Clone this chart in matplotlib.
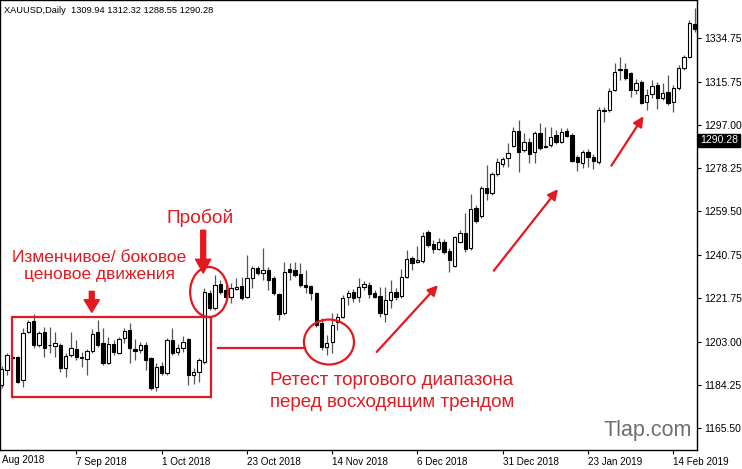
import matplotlib
matplotlib.use("Agg")
import matplotlib.pyplot as plt
from matplotlib.patches import Rectangle, Ellipse
import numpy as np

# ---- data (XAUUSD daily OHLC) ----
opens = [1184.2,1190.7,1196.1,1196.3,1186.3,1207.2,1211.9,1201.5,1207.2,1201.7,
         1200.9,1201.5,1191.5,1197.2,1199.8,1196.1,1195.4,1198.7,1207.2,1202.2,
         1193.7,1201.9,1198.0,1204.6,1208.0,1199.6,1199.3,1201.5,1195.7,1183.3,
         1192.4,1189.4,1203.7,1198.5,1200.2,1203.9,1188.5,1189.8,1194.1,1224.1,
         1217.6,1228.2,1225.4,1222.3,1225.8,1227.1,1222.3,1230.6,1234.9,1232.8,
         1234.1,1230.6,1223.6,1215.4,1234.5,1234.1,1232.3,1227.6,1227.1,1224.1,
         1211.1,1200.6,1202.8,1211.5,1213.7,1222.3,1224.5,1222.3,1226.5,1227.6,
         1224.1,1222.8,1215.0,1221.0,1224.5,1222.8,1231.0,1239.3,1237.5,1238.0,
         1250.6,1245.3,1243.2,1246.2,1242.3,1235.8,1246.2,1250.1,1243.6,1261.0,
         1257.5,1269.7,1267.5,1275.7,1280.1,1282.7,1287.9,1294.4,1286.1,1289.6,
         1285.3,1293.5,1287.9,1288.1,1292.7,1289.8,1294.4,1292.7,1283.3,1280.7,
         1285.1,1283.1,1280.9,1303.1,1303.5,1312.2,1321.5,1321.3,1319.6,1312.2,
         1315.7,1307.0,1310.4,1314.4,1308.7,1311.3,1307.0,1313.1,1321.7,1326.5,
         1340.8]
highs = [1192.4,1198.0,1197.2,1196.7,1208.9,1212.4,1215.0,1207.6,1209.3,1209.3,
         1207.2,1202.4,1198.0,1207.2,1203.7,1198.5,1199.8,1208.4,1212.4,1208.9,
         1205.0,1203.7,1205.0,1208.9,1211.1,1204.1,1202.8,1202.8,1196.3,1193.7,
         1194.1,1204.6,1208.9,1201.9,1205.4,1204.6,1191.5,1195.9,1226.3,1225.4,
         1231.9,1229.7,1227.6,1228.4,1230.6,1231.0,1240.6,1235.8,1235.8,1243.6,
         1235.4,1231.5,1224.1,1237.5,1237.1,1237.5,1237.1,1234.1,1227.6,1224.5,
         1213.2,1205.9,1215.4,1215.4,1223.2,1225.4,1225.8,1230.6,1229.3,1228.9,
         1225.4,1226.7,1226.7,1229.7,1226.3,1234.5,1242.7,1240.1,1244.5,1250.6,
         1251.4,1247.1,1247.9,1247.5,1243.6,1248.8,1251.4,1258.8,1267.0,1262.3,
         1270.5,1279.6,1276.6,1282.7,1283.1,1289.2,1296.1,1299.2,1293.5,1291.3,
         1294.4,1297.9,1296.1,1296.1,1294.8,1295.7,1295.7,1293.5,1284.0,1286.1,
         1286.6,1284.4,1304.8,1304.6,1313.1,1323.9,1326.5,1323.9,1320.0,1317.0,
         1316.5,1312.6,1316.5,1315.7,1315.2,1318.7,1314.4,1323.0,1327.4,1342.6,
         1347.8]
lows = [1182.9,1188.5,1195.0,1185.0,1183.3,1206.7,1200.2,1200.6,1196.3,1198.0,
        1196.3,1189.8,1187.6,1196.3,1195.0,1192.0,1188.5,1198.0,1200.6,1192.8,
        1193.3,1197.2,1197.6,1202.4,1193.7,1195.0,1198.0,1190.7,1182.0,1181.6,
        1188.5,1188.5,1197.2,1197.2,1198.5,1184.2,1184.6,1185.5,1193.3,1216.7,
        1216.7,1223.6,1221.0,1219.7,1225.4,1221.0,1221.9,1226.3,1231.9,1229.7,
        1225.4,1223.2,1212.4,1214.5,1229.7,1231.0,1226.7,1224.1,1221.0,1209.3,
        1199.3,1197.2,1198.0,1208.0,1213.2,1218.9,1220.2,1220.2,1225.4,1221.9,
        1221.9,1213.7,1211.5,1217.6,1221.0,1221.9,1230.6,1234.1,1237.1,1237.1,
        1244.0,1241.4,1242.7,1241.0,1233.2,1235.4,1245.8,1241.9,1242.7,1254.5,
        1256.6,1264.4,1266.6,1274.9,1278.8,1278.8,1287.4,1276.6,1285.3,1280.5,
        1280.5,1286.1,1287.0,1287.4,1288.7,1289.2,1291.8,1280.9,1277.0,1278.3,
        1278.8,1277.9,1280.1,1298.1,1302.6,1311.8,1316.5,1316.5,1309.1,1310.4,
        1306.1,1303.5,1308.7,1303.9,1307.8,1305.7,1302.6,1312.2,1320.9,1326.1,
        1337.4]
closes = [1191.1,1197.2,1195.9,1185.5,1206.7,1211.5,1201.5,1206.7,1200.2,1201.3,
          1202.2,1191.5,1196.7,1200.4,1196.3,1195.7,1198.9,1206.3,1201.5,1193.7,
          1201.9,1198.5,1204.1,1207.6,1200.2,1199.1,1201.5,1195.0,1182.9,1192.0,
          1189.4,1203.5,1198.0,1200.4,1202.8,1188.5,1189.8,1195.0,1224.5,1217.6,
          1227.6,1224.7,1222.3,1226.3,1226.7,1221.9,1230.6,1234.9,1232.8,1234.1,
          1229.7,1224.1,1215.0,1233.2,1233.2,1231.9,1227.6,1226.7,1224.1,1210.2,
          1200.6,1202.4,1210.2,1213.7,1221.9,1224.1,1221.9,1226.7,1227.8,1223.6,
          1222.3,1215.4,1221.0,1224.5,1222.3,1231.0,1238.8,1237.1,1238.4,1248.8,
          1244.9,1243.2,1246.2,1241.9,1238.4,1248.4,1250.1,1243.2,1260.5,1255.3,
          1269.7,1267.5,1275.7,1280.9,1282.2,1284.8,1294.4,1285.3,1289.6,1284.4,
          1293.5,1287.0,1287.4,1291.6,1289.4,1294.0,1292.4,1281.4,1280.9,1285.3,
          1282.9,1281.4,1303.5,1303.7,1311.8,1320.0,1320.9,1317.6,1312.2,1315.2,
          1306.5,1310.0,1313.9,1308.7,1310.9,1306.5,1313.1,1321.7,1326.5,1341.3,
          1338.7]

date_labels = ["Aug 2018", "7 Sep 2018", "1 Oct 2018", "23 Oct 2018", "14 Nov 2018",
               "6 Dec 2018", "31 Dec 2018", "23 Jan 2019", "14 Feb 2019"]
date_label_bars = [0, 14, 30, 46, 62, 78, 94, 110, 126]
price_ticks = [1165.50, 1184.25, 1203.00, 1221.75, 1240.75, 1259.50, 1278.25,
               1297.00, 1315.75, 1334.75]
price_tick_labels = ["1165.50", "1184.25", "1203.00", "1221.75", "1240.75", "1259.50",
                     "1278.25", "1297.00", "1315.75", "1334.75"]
header = "XAUUSD,Daily  1309.94 1312.32 1288.55 1290.28"
last_price = 1290.28

# ---- figure ----
W, H = 742, 469
fig = plt.figure(figsize=(W / 100, H / 100), dpi=100)
fig.patch.set_facecolor("white")
ax = fig.add_axes([0, 19 / H, 697 / W, 450 / H])
ax.set_facecolor("white")

n = len(opens)
xs = np.arange(n)
o = np.array(opens); h = np.array(highs); l = np.array(lows); c = np.array(closes)

ax.vlines(xs, l, h, colors="#555555", linewidth=0.9, zorder=2)
up = c >= o
body_bot = np.minimum(o, c)
body_h = np.maximum(np.abs(c - o), 0.35)
bw = 0.62
ax.bar(xs[up], body_h[up], bottom=body_bot[up], width=bw, color="white",
       edgecolor="black", linewidth=0.8, zorder=3)
ax.bar(xs[~up], body_h[~up], bottom=body_bot[~up], width=bw, color="black",
       edgecolor="black", linewidth=0.8, zorder=3)

ax.set_xlim(-0.32, 130.45)
ax.set_ylim(1155.94, 1351.24)

for s in ax.spines.values():
    s.set_color("black")
    s.set_linewidth(1.0)

font = "Liberation Sans"
ax.yaxis.tick_right()
ax.set_yticks(price_ticks)
ax.set_yticklabels(price_tick_labels, fontsize=7.5, family=font)
ax.tick_params(axis="y", direction="out", length=3, width=0.8, pad=2)

# x labels: the first one sits at the left edge (partially visible date in the original)
ax.set_xticks(date_label_bars[1:])
ax.set_xticklabels(date_labels[1:], fontsize=7.1, family=font, ha="left")
ax.tick_params(axis="x", direction="out", length=3, width=0.8, pad=2)
ax.text(0.003, -0.012, date_labels[0], transform=ax.transAxes,
        fontsize=7.1, family=font, ha="left", va="top", clip_on=False)

# header
ax.text(0.006, 0.987, header, transform=ax.transAxes, fontsize=6.7, family=font,
        ha="left", va="top")

# current price marker
ax.annotate(f"{last_price:.2f}", xy=(1.0, last_price), xycoords=("axes fraction", "data"),
            xytext=(2, 0), textcoords="offset points", fontsize=7.5, family=font,
            color="white", ha="left", va="center",
            bbox=dict(boxstyle="square,pad=0.18", fc="black", ec="black"))

# watermark
ax.text(129.5, 1164.6, "Tlap.com", fontsize=15.5, family=font, color="#6e6e6e",
        ha="right", va="center")

red = "#e3191f"
# range box
ax.add_patch(Rectangle((1.93, 1178.9), 39.3 - 1.93, 1213.7 - 1178.9, fill=False,
                       ec=red, lw=1.6, zorder=5))
ax.text(18.3, 1239.3, "Изменчивое/ боковое", color=red, fontsize=12.5, family=font,
        ha="center", va="center")
ax.text(18.3, 1232.0, "ценовое движения", color=red, fontsize=12.5, family=font,
        ha="center", va="center")
ax.annotate("", xy=(16.9, 1214.5), xytext=(16.9, 1226.0),
            arrowprops=dict(arrowstyle="simple,head_width=1.1,head_length=0.9,tail_width=0.35",
                            fc=red, ec=red))
# breakout
ax.text(37.2, 1256.6, "Пробой", color=red, fontsize=13.8, family=font, ha="center", va="center")
ax.annotate("", xy=(37.8, 1231.5), xytext=(37.8, 1252.5),
            arrowprops=dict(arrowstyle="simple,head_width=1.1,head_length=1.0,tail_width=0.35",
                            fc=red, ec=red))
ax.add_patch(Ellipse((38.9, 1224.5), 7.1, 21.7, fill=False, ec=red, lw=1.6, zorder=5))
# retest
ax.add_patch(Ellipse((61.4, 1202.8), 9.4, 19.5, fill=False, ec=red, lw=1.6, zorder=5))
ax.plot([40.6, 56.9], [1200.2, 1200.2], color=red, lw=1.6)
ax.text(50.3, 1186.3, "Ретест торгового диапазона", color=red, fontsize=13.5, family=font,
        ha="left", va="center")
ax.text(50.3, 1176.6, "перед восходящим трендом", color=red, fontsize=13.5, family=font,
        ha="left", va="center")
# trend arrows
for (x0, y0, x1, y1) in [(70.0, 1197.6, 82.2, 1228.4), (92.0, 1232.8, 104.7, 1270.1),
                         (114.1, 1278.3, 120.7, 1301.8)]:
    ax.annotate("", xy=(x1, y1), xytext=(x0, y0),
                arrowprops=dict(arrowstyle="-|>,head_width=0.3,head_length=0.6",
                                color=red, lw=1.6))

fig.savefig("out.png", dpi=100)
